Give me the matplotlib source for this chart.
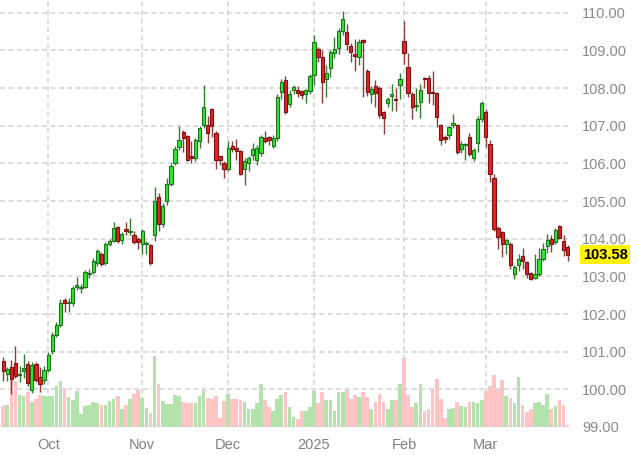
import matplotlib
matplotlib.use('Agg')
import matplotlib.pyplot as plt
import matplotlib.transforms as mtransforms
import numpy as np
import pandas as pd

plt.rcParams['font.family'] = ['Liberation Sans', 'DejaVu Sans']

# ---------------- data ----------------
holidays = ['2024-12-25', '2025-01-01']
dates = pd.bdate_range('2024-09-16', '2025-03-31')
dates = dates[~dates.isin(pd.to_datetime(holidays))]

opens = [100.76, 100.42, 100.59, 100.69, 100.38, 100.50, 100.66, 99.98, 100.66, 100.34, 100.25,
         100.52, 101.01, 101.45, 101.72, 102.36, 102.30, 102.29, 102.71, 102.70, 102.73, 103.05,
         103.11, 103.35, 103.60, 103.35, 103.86, 103.94, 104.30, 103.96, 104.27, 104.18, 104.10, 103.98,
         103.85, 103.86, 103.82, 104.11, 105.10, 104.40, 105.00, 105.45, 106.02, 106.44, 106.84,
         106.72, 106.19, 106.15, 106.60, 107.02, 107.02, 107.43, 106.81, 106.19, 106.01,
         105.86, 106.45, 106.42, 106.33, 105.84, 106.01, 106.21, 106.08, 106.28, 106.66, 106.69,
         106.45, 106.66, 107.90, 108.21, 107.57, 107.96, 107.96, 107.92, 107.83, 107.92,
         108.34, 109.03, 108.83, 108.24, 108.54, 108.92, 109.05, 109.51, 109.48, 109.12, 108.90,
         108.83, 109.27, 108.45, 107.83, 108.06, 107.99, 107.37, 107.59, 107.79, 107.72, 108.08,
         109.26, 108.56, 107.84, 107.52, 107.63, 108.27, 108.26, 107.90, 107.88, 107.02, 106.69,
         106.75, 107.02, 107.02, 106.37, 106.48, 106.70, 106.15, 106.53, 107.19,
         107.37, 106.52, 105.60, 104.29, 104.17, 103.85, 103.85, 103.07, 103.29, 103.53, 103.38,
         103.09, 102.96, 103.07, 103.47, 103.80, 104.00, 103.91, 104.33, 103.94, 103.78]
highs = [100.85, 100.60, 100.78, 101.16, 100.62, 100.95, 100.75, 100.72, 100.72, 100.60, 100.62,
         101.00, 101.52, 101.78, 102.40, 102.42, 102.42, 102.75, 102.98, 102.80, 103.18, 103.20,
         103.48, 103.72, 103.65, 103.90, 104.00, 104.43, 104.35, 104.18, 104.44, 104.54, 104.20, 104.05,
         104.25, 103.95, 103.85, 105.38, 105.20, 104.95, 105.60, 106.00, 106.45, 107.00, 106.88,
         106.75, 106.60, 106.67, 106.98, 108.08, 107.25, 107.48, 106.85, 106.20, 106.05,
         106.60, 106.60, 106.65, 106.36, 106.15, 106.20, 106.55, 106.50, 106.75, 106.85, 106.72,
         106.75, 107.85, 108.25, 108.32, 107.95, 108.08, 108.05, 107.95, 107.98, 108.38,
         109.40, 109.10, 109.00, 108.60, 109.00, 109.35, 109.60, 110.05, 109.70, 109.20, 109.30,
         109.30, 109.30, 108.50, 108.05, 108.20, 108.05, 107.40, 107.75, 108.10, 108.00, 108.40,
         109.77, 108.92, 107.90, 107.99, 108.10, 108.30, 108.35, 108.46, 107.90, 107.05, 106.75,
         107.00, 107.32, 107.05, 106.60, 106.55, 106.80, 106.40, 107.25, 107.66,
         107.45, 106.62, 105.72, 104.35, 104.20, 104.00, 103.90, 103.30, 103.60, 103.74, 103.42,
         103.12, 103.60, 103.75, 103.88, 104.13, 104.10, 104.28, 104.37, 104.10, 103.82]
lows = [100.23, 100.23, 99.88, 100.30, 100.20, 100.30, 100.10, 99.90, 100.20, 99.93, 100.15,
        100.45, 100.95, 101.40, 101.65, 102.05, 102.05, 102.22, 102.65, 102.55, 102.68, 102.95,
        103.05, 103.28, 103.28, 103.30, 103.80, 103.90, 103.88, 103.85, 104.10, 104.10, 103.85, 103.72,
        103.60, 103.60, 103.30, 103.95, 104.20, 104.30, 104.90, 105.40, 105.95, 106.35, 106.31,
        106.05, 106.00, 106.05, 106.40, 106.95, 106.55, 106.70, 105.85, 105.95, 105.62,
        105.80, 106.30, 106.10, 105.68, 105.42, 105.80, 106.10, 105.95, 106.20, 106.55, 106.50,
        106.40, 106.60, 107.70, 107.32, 107.50, 107.85, 107.75, 107.72, 107.60, 107.85,
        108.09, 108.70, 107.59, 107.77, 108.30, 108.80, 108.90, 109.40, 109.00, 108.70, 108.45,
        108.60, 107.77, 107.80, 107.60, 107.50, 107.20, 106.79, 107.50, 107.40, 107.40, 107.70,
        108.65, 107.77, 107.17, 107.40, 107.20, 108.00, 107.60, 107.55, 106.97, 106.48, 106.55,
        106.65, 106.95, 106.25, 106.27, 106.10, 106.20, 106.05, 106.30, 107.10,
        106.44, 105.51, 104.20, 103.73, 103.51, 103.60, 103.20, 102.94, 103.15, 103.20, 102.95,
        102.90, 102.92, 103.00, 103.40, 103.62, 103.65, 103.85, 103.98, 103.55, 103.40]
closes = [100.48, 100.55, 100.28, 100.36, 100.42, 100.56, 100.18, 100.64, 100.26, 100.15, 100.52,
          100.92, 101.43, 101.72, 102.29, 102.29, 102.33, 102.70, 102.76, 102.73, 103.11, 103.08,
          103.42, 103.67, 103.34, 103.85, 103.93, 104.29, 103.94, 104.13, 104.20, 104.21, 103.90, 103.91,
          104.20, 103.89, 103.35, 105.00, 104.40, 104.88, 105.46, 105.93, 106.39, 106.61, 106.66,
          106.10, 106.15, 106.63, 106.93, 107.50, 106.81, 106.99, 106.08, 106.08, 105.86,
          106.42, 106.37, 106.33, 105.73, 106.07, 106.13, 106.39, 106.42, 106.69, 106.60, 106.63,
          106.66, 107.77, 108.17, 107.37, 107.84, 108.03, 107.87, 107.81, 107.94, 108.33,
          109.21, 108.83, 108.15, 108.39, 108.96, 109.03, 109.51, 109.83, 109.16, 108.95, 108.86,
          109.23, 109.22, 107.90, 107.97, 107.88, 107.28, 107.21, 107.70, 107.83, 107.68, 108.24,
          108.92, 107.86, 107.50, 107.55, 107.94, 108.23, 107.86, 107.86, 107.24, 106.63, 106.65,
          106.97, 107.08, 106.31, 106.52, 106.52, 106.26, 106.35, 107.19, 107.59,
          106.70, 105.73, 104.27, 104.04, 103.85, 103.96, 103.29, 103.24, 103.47, 103.40, 103.05,
          102.94, 103.07, 103.47, 103.73, 103.96, 103.87, 104.22, 104.03, 103.71, 103.58]
volume = [20.7, 22.3, 48.0, 46.3, 32.3, 30.7, 34.7, 24.7, 28.0, 32.3, 30.7,
          30.7, 30.7, 40.7, 45.7, 39.0, 29.7, 27.3, 36.3, 13.0, 21.3, 22.3,
          25.0, 24.0, 21.7, 21.7, 25.7, 28.0, 30.7, 18.3, 22.3, 28.0, 33.0, 37.3,
          29.0, 19.0, 14.0, 71.3, 43.0, 26.3, 23.0, 23.0, 32.3, 30.7, 24.7,
          24.0, 24.0, 24.0, 30.7, 37.3, 29.0, 28.0, 31.3, 9.0, 25.7,
          33.3, 28.3, 28.3, 26.7, 25.0, 18.3, 18.3, 24.0, 43.3, 26.7, 20.0,
          15.7, 28.0, 32.3, 35.0, 20.0, 10.0, 8.3, 15.7, 15.7, 20.0,
          36.3, 24.0, 35.0, 26.7, 26.7, 15.7, 35.0, 35.0, 37.3, 28.3, 32.3,
          29.7, 35.0, 29.7, 18.3, 25.0, 33.3, 25.0, 18.3, 26.7, 26.7, 43.3,
          69.0, 32.3, 20.0, 24.0, 43.3, 15.7, 18.3, 38.0, 48.3, 28.0, 9.0,
          18.3, 19.0, 25.0, 21.3, 20.0, 25.0, 25.0, 24.0, 27.3,
          36.0, 40.7, 52.3, 38.0, 46.7, 30.7, 29.0, 24.0, 50.0, 22.3, 14.7,
          18.3, 24.0, 25.0, 22.3, 33.3, 18.0, 21.3, 26.7, 22.3, 1.7]
price_ticks = [99, 100, 101, 102, 103, 104, 105, 106, 107, 108, 109, 110]

# ---------------- figure ----------------
W, H = 637, 455
fig = plt.figure(figsize=(W / 100, H / 100), dpi=100)
ax_right_px, ax_bottom_px = 570, 427
rect = [0, (H - ax_bottom_px) / H, ax_right_px / W, ax_bottom_px / H]

axv = fig.add_axes(rect)
ax = axv.twinx()

o = np.array(opens); h = np.array(highs); l = np.array(lows); c = np.array(closes)
v = np.array(volume)
x = np.arange(len(dates))
up = c >= o

# volume (bottom layer)
axv.bar(x, v, width=0.9, color=np.where(up, '#b3e2ac', '#ffc4c4'), linewidth=0, zorder=2)
axv.set_ylim(0, ax_bottom_px)
axv.set_yticks([])

# grid
dash = (0, (3.3, 2.2))
ax.set_yticks(price_ticks)
ax.grid(axis='y', color='#d3d3d3', linestyle=dash, linewidth=1.1, zorder=0)
axv.grid(axis='x', color='#d3d3d3', linestyle=dash, linewidth=1.1, zorder=0)
axv.set_axisbelow(True)

# candles
wick_col = np.where(up, '#2f7d2f', '#8e3b3b')
ax.vlines(x, l, h, colors=wick_col, linewidth=1.0, zorder=3)
body_lo = np.minimum(o, c)
body_h = np.maximum(np.abs(c - o), 0.03)
ax.bar(x, body_h, bottom=body_lo, width=0.8,
       color=np.where(up, '#2ee82e', '#e82222'),
       edgecolor=np.where(up, '#1f6f1f', '#7a1414'), linewidth=0.8, zorder=4)

px_per_unit = 4.09
x0_px = 3.2
ax.set_xlim(-x0_px / px_per_unit, (ax_right_px - x0_px) / px_per_unit)
ax.set_ylim(99.0, 110.0 + 12.7 / 37.66)

# month ticks
months = dates.to_period('M')
first = np.r_[False, months[1:] != months[:-1]]
tick_idx = x[first]
tick_lab = [d.strftime('%Y') if d.month == 1 else d.strftime('%b') for d in dates[first]]
axv.set_xticks(tick_idx)
axv.set_xticklabels(tick_lab)
axv.tick_params(axis='x', length=0, pad=8, labelsize=10.5, labelcolor='#808080')

ax.yaxis.tick_right()
ax.set_yticklabels([f'{t:.2f}' for t in price_ticks])
ax.tick_params(axis='y', length=0, pad=8.6, labelsize=10.5, labelcolor='#8a8a8a')

for a in (ax, axv):
    for s in a.spines.values():
        s.set_visible(False)

# last price tag
trans = mtransforms.blended_transform_factory(ax.transAxes, ax.transData)
ax.text(583 / ax_right_px, closes[-1], f'{closes[-1]:.2f}', transform=trans,
        ha='left', va='center', fontsize=10.5, fontweight='bold', color='black',
        bbox=dict(boxstyle='square,pad=0.18', fc='#fff200', ec='none'), zorder=6, clip_on=False)

fig.savefig('out.png', dpi=100)
